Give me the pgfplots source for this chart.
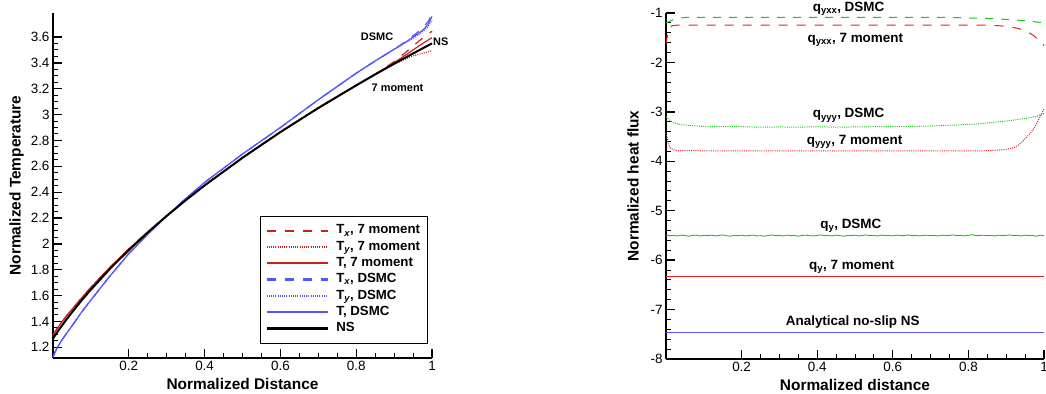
\documentclass[border=0pt]{standalone}
\usepackage{fontspec}
\setmainfont{Liberation Sans}
\usepackage{pgfplots}
\pgfplotsset{compat=1.18}
\definecolor{mred}{RGB}{205,30,30}
\definecolor{mblue}{RGB}{85,85,255}
\definecolor{mgreen}{RGB}{20,200,20}
\definecolor{qred}{RGB}{230,30,30}
\pgfplotsset{
  base/.style={
    scale only axis,
    axis lines=left,
    axis line style={-, line width=1.5bp, black},
    xmin=0, xmax=1,
    xtick={0.2,0.4,0.6,0.8,1},
    minor x tick num=3,
    tick align=inside,
    major tick length=9bp, minor tick length=5bp,
    major tick style={line width=1.3bp, black},
    minor tick style={line width=1bp, black},
    tick label style={font=\fontsize{13.5}{16}\selectfont},
    label style={font=\fontsize{15.5}{18}\selectfont\bfseries},
    /pgf/number format/assume math mode=true,
    clip=false,
  },
  dsh/.style={dash pattern=on 9bp off 9bp},
  dtt/.style={dash pattern=on 1bp off 1.2bp},
  leg/.style={legend image code/.code={\draw[#1, line width=1.35\pgflinewidth] (0bp,0bp) -- (61bp,0bp);}},
}
\begin{document}
\begin{tikzpicture}
\useasboundingbox (0,0) rectangle (1046bp,394bp);
\begin{axis}[base, at={(53bp,36bp)}, anchor=south west, width=379bp, height=345bp,
  ymin=1.117, ymax=3.786,
  ytick={1.2,1.4,1.6,1.8,2,2.2,2.4,2.6,2.8,3,3.2,3.4,3.6},
  minor y tick num=3,
  xlabel={Normalized Distance}, ylabel={Normalized Temperature},
  every axis plot post/.append style={leg},
  legend style={at={(0.9876,0.0426)}, anchor=south east, draw=black, fill=white,
    font=\fontsize{13.3}{16}\selectfont\bfseries, cells={anchor=west},
    inner xsep=5bp, inner ysep=6.5bp,
    nodes={inner xsep=2bp, inner ysep=1.4bp, text height=10bp, text depth=3.5bp},
    /tikz/every odd column/.append style={column sep=5bp}},
]
% T_x 7 moment
\addplot[color=mred, line width=1.2bp, dsh] coordinates {(0,1.295) (0.005,1.318) (0.01,1.340) (0.02,1.382) (0.035,1.440) (0.05,1.493) (0.075,1.580) (0.1,1.663) (0.15,1.818) (0.2,1.960) (0.25,2.092) (0.3,2.218) (0.35,2.338) (0.4,2.452) (0.5,2.666) (0.6,2.865) (0.7,3.051) (0.8,3.226) (0.85,3.312) (0.88,3.370) (0.9,3.410) (0.93,3.480) (0.95,3.530) (0.97,3.580) (1.0,3.645)};
\addlegendentry{T\textsubscript{\itshape x}, 7 moment}
% T_y 7 moment
\addplot[color=mred, line width=1.2bp, dtt] coordinates {(0,1.295) (0.005,1.318) (0.01,1.340) (0.02,1.382) (0.035,1.440) (0.05,1.493) (0.075,1.580) (0.1,1.663) (0.15,1.818) (0.2,1.960) (0.25,2.092) (0.3,2.218) (0.35,2.338) (0.4,2.452) (0.5,2.666) (0.6,2.865) (0.7,3.051) (0.8,3.226) (0.85,3.312) (0.88,3.360) (0.9,3.390) (0.93,3.430) (0.95,3.455) (0.97,3.470) (1.0,3.495)};
\addlegendentry{T\textsubscript{\itshape y}, 7 moment}
% T 7 moment
\addplot[color=mred, line width=1.2bp] coordinates {(0,1.295) (0.005,1.318) (0.01,1.340) (0.02,1.382) (0.035,1.440) (0.05,1.493) (0.075,1.580) (0.1,1.663) (0.15,1.818) (0.2,1.960) (0.25,2.092) (0.3,2.218) (0.35,2.338) (0.4,2.452) (0.5,2.666) (0.6,2.865) (0.7,3.051) (0.8,3.226) (0.85,3.312) (0.88,3.365) (0.9,3.402) (0.93,3.460) (0.95,3.500) (0.97,3.540) (1.0,3.595)};
\addlegendentry{T, 7 moment}
% T_x DSMC
\addplot[color=mblue, line width=1.2bp, dsh] coordinates {(0,1.125) (0.005,1.16) (0.01,1.19) (0.02,1.24) (0.035,1.305) (0.05,1.365) (0.075,1.47) (0.1,1.565) (0.15,1.75) (0.2,1.925) (0.25,2.075) (0.3,2.215) (0.35,2.35) (0.4,2.475) (0.5,2.695) (0.6,2.90) (0.7,3.115) (0.8,3.32) (0.85,3.415) (0.9,3.505) (0.93,3.565) (0.95,3.61) (0.97,3.655) (0.99,3.72) (1.0,3.78)};
\addlegendentry{T\textsubscript{\itshape x}, DSMC}
% T_y DSMC
\addplot[color=mblue, line width=1.2bp, dtt] coordinates {(0,1.125) (0.005,1.16) (0.01,1.19) (0.02,1.24) (0.035,1.305) (0.05,1.365) (0.075,1.47) (0.1,1.565) (0.15,1.75) (0.2,1.925) (0.25,2.075) (0.3,2.215) (0.35,2.35) (0.4,2.475) (0.5,2.695) (0.6,2.90) (0.7,3.115) (0.8,3.32) (0.85,3.415) (0.9,3.505) (0.93,3.555) (0.95,3.59) (0.97,3.63) (0.99,3.68) (1.0,3.73)};
\addlegendentry{T\textsubscript{\itshape y}, DSMC}
% T DSMC
\addplot[color=mblue, line width=1.2bp] coordinates {(0,1.125) (0.005,1.16) (0.01,1.19) (0.02,1.24) (0.035,1.305) (0.05,1.365) (0.075,1.47) (0.1,1.565) (0.15,1.75) (0.2,1.925) (0.25,2.075) (0.3,2.215) (0.35,2.35) (0.4,2.475) (0.5,2.695) (0.6,2.90) (0.7,3.115) (0.8,3.32) (0.85,3.415) (0.9,3.505) (0.93,3.56) (0.95,3.60) (0.97,3.64) (0.98,3.665) (0.99,3.70) (1.0,3.76)};
\addlegendentry{T, DSMC}
% NS
\addplot[color=black, line width=2bp] coordinates {(0,1.265) (0.005,1.290) (0.01,1.311) (0.02,1.353) (0.035,1.413) (0.05,1.470) (0.075,1.561) (0.1,1.646) (0.15,1.806) (0.2,1.952) (0.25,2.088) (0.3,2.216) (0.35,2.337) (0.4,2.452) (0.5,2.666) (0.6,2.865) (0.7,3.051) (0.8,3.226) (0.85,3.311) (0.9,3.393) (0.95,3.473) (1.0,3.551)};
\addlegendentry{NS}
\node[font=\fontsize{11}{13}\selectfont\bfseries] at (axis cs:0.855,3.60) {DSMC};
\node[font=\fontsize{11}{13}\selectfont\bfseries] at (axis cs:1.023,3.56) {NS};
\node[font=\fontsize{11}{13}\selectfont\bfseries] at (axis cs:0.909,3.205) {7 moment};
\end{axis}
\begin{axis}[base, at={(666bp,35bp)}, anchor=south west, width=378bp, height=346bp,
  ymin=-8, ymax=-1,
  ytick={-8,-7,-6,-5,-4,-3,-2,-1},
  minor y tick num=4,
  ylabel shift=5bp,
  xlabel={Normalized distance}, ylabel={Normalized heat flux},
]
% q_yxx DSMC
\addplot[color=mgreen, line width=1bp, dash pattern=on 8bp off 8bp] coordinates {(0,-1.20) (0.01,-1.17) (0.02,-1.13) (0.03,-1.11) (0.05,-1.09) (0.3,-1.088) (0.5,-1.09) (0.75,-1.09) (0.8,-1.10) (0.85,-1.11) (0.9,-1.13) (0.95,-1.155) (0.99,-1.19) (1.0,-1.20)};
% q_yxx 7 moment
\addplot[color=qred, line width=1bp, dsh] coordinates {(0,-1.62) (0.004,-1.45) (0.008,-1.32) (0.015,-1.26) (0.03,-1.245) (0.5,-1.243) (0.8,-1.243) (0.85,-1.245) (0.885,-1.26) (0.909,-1.28) (0.93,-1.31) (0.955,-1.37) (0.975,-1.47) (0.99,-1.59) (1.0,-1.66)};
% q_yyy DSMC
\addplot[color=mgreen, line width=1bp, dtt] coordinates {(0,-3.10) (0.01,-3.17) (0.02,-3.22) (0.04,-3.26) (0.07,-3.28) (0.1,-3.295) (0.15,-3.30) (0.2,-3.30) (0.25,-3.31) (0.3,-3.305) (0.35,-3.31) (0.4,-3.30) (0.45,-3.31) (0.5,-3.305) (0.55,-3.30) (0.6,-3.30) (0.65,-3.295) (0.7,-3.285) (0.75,-3.27) (0.8,-3.255) (0.83,-3.24) (0.87,-3.21) (0.917,-3.17) (0.962,-3.12) (0.98,-3.09) (1.0,-3.03)};
% q_yyy 7 moment
\addplot[color=qred, line width=1bp, dtt] coordinates {(0,-3.42) (0.005,-3.60) (0.01,-3.72) (0.02,-3.77) (0.03,-3.785) (0.2,-3.79) (0.5,-3.79) (0.829,-3.79) (0.87,-3.78) (0.9,-3.76) (0.918,-3.73) (0.931,-3.68) (0.944,-3.59) (0.962,-3.45) (0.975,-3.32) (0.984,-3.18) (0.993,-3.05) (1.0,-2.93)};
% q_y DSMC
\addplot[color=mgreen, line width=0.9bp] coordinates {(0,-5.495) (0.01,-5.505) (0.02,-5.50) (0.03,-5.51) (0.04,-5.495) (0.05,-5.505) (0.06,-5.515) (0.07,-5.50) (0.08,-5.495) (0.09,-5.51) (0.10,-5.50) (0.11,-5.505) (0.12,-5.495) (0.13,-5.51) (0.14,-5.50) (0.15,-5.49) (0.16,-5.505) (0.17,-5.515) (0.18,-5.50) (0.19,-5.505) (0.20,-5.495) (0.21,-5.51) (0.22,-5.50) (0.23,-5.495) (0.24,-5.51) (0.25,-5.505) (0.26,-5.515) (0.27,-5.50) (0.28,-5.49) (0.29,-5.505) (0.30,-5.50) (0.31,-5.51) (0.32,-5.495) (0.33,-5.505) (0.34,-5.50) (0.35,-5.515) (0.36,-5.50) (0.37,-5.495) (0.38,-5.505) (0.39,-5.51) (0.40,-5.50) (0.41,-5.49) (0.42,-5.505) (0.43,-5.50) (0.44,-5.51) (0.45,-5.495) (0.46,-5.505) (0.47,-5.515) (0.48,-5.50) (0.49,-5.505) (0.50,-5.495) (0.51,-5.51) (0.52,-5.50) (0.53,-5.49) (0.54,-5.505) (0.55,-5.50) (0.56,-5.51) (0.57,-5.495) (0.58,-5.505) (0.59,-5.50) (0.60,-5.51) (0.61,-5.495) (0.62,-5.50) (0.63,-5.505) (0.64,-5.49) (0.65,-5.505) (0.66,-5.50) (0.67,-5.51) (0.68,-5.50) (0.69,-5.495) (0.70,-5.505) (0.71,-5.50) (0.72,-5.51) (0.73,-5.495) (0.74,-5.505) (0.75,-5.50) (0.76,-5.49) (0.77,-5.505) (0.78,-5.50) (0.79,-5.51) (0.80,-5.495) (0.81,-5.485) (0.82,-5.505) (0.83,-5.50) (0.84,-5.495) (0.85,-5.505) (0.86,-5.50) (0.87,-5.51) (0.88,-5.495) (0.89,-5.505) (0.90,-5.50) (0.91,-5.49) (0.92,-5.505) (0.93,-5.50) (0.94,-5.51) (0.95,-5.495) (0.96,-5.505) (0.97,-5.50) (0.98,-5.515) (0.99,-5.495) (1.0,-5.505)};
% q_y 7 moment
\addplot[color=qred, line width=1.4bp] coordinates {(0,-6.33) (1,-6.33)};
% Analytical NS
\addplot[color=mblue, line width=1.4bp] coordinates {(0,-7.465) (1,-7.465)};
\tikzset{ann/.style={font=\fontsize{13.5}{16}\selectfont\bfseries}}
\node[ann] at (axis cs:0.483,-0.91) {q\textsubscript{yxx}, DSMC};
\node[ann] at (axis cs:0.501,-1.54) {q\textsubscript{yxx}, 7 moment};
\node[ann] at (axis cs:0.483,-3.07) {q\textsubscript{yyy}, DSMC};
\node[ann] at (axis cs:0.499,-3.61) {q\textsubscript{yyy}, 7 moment};
\node[ann] at (axis cs:0.489,-5.31) {q\textsubscript{y}, DSMC};
\node[ann] at (axis cs:0.491,-6.14) {q\textsubscript{y}, 7 moment};
\node[ann] at (axis cs:0.494,-7.25) {Analytical no-slip NS};
\end{axis}
\end{tikzpicture}
\end{document}
